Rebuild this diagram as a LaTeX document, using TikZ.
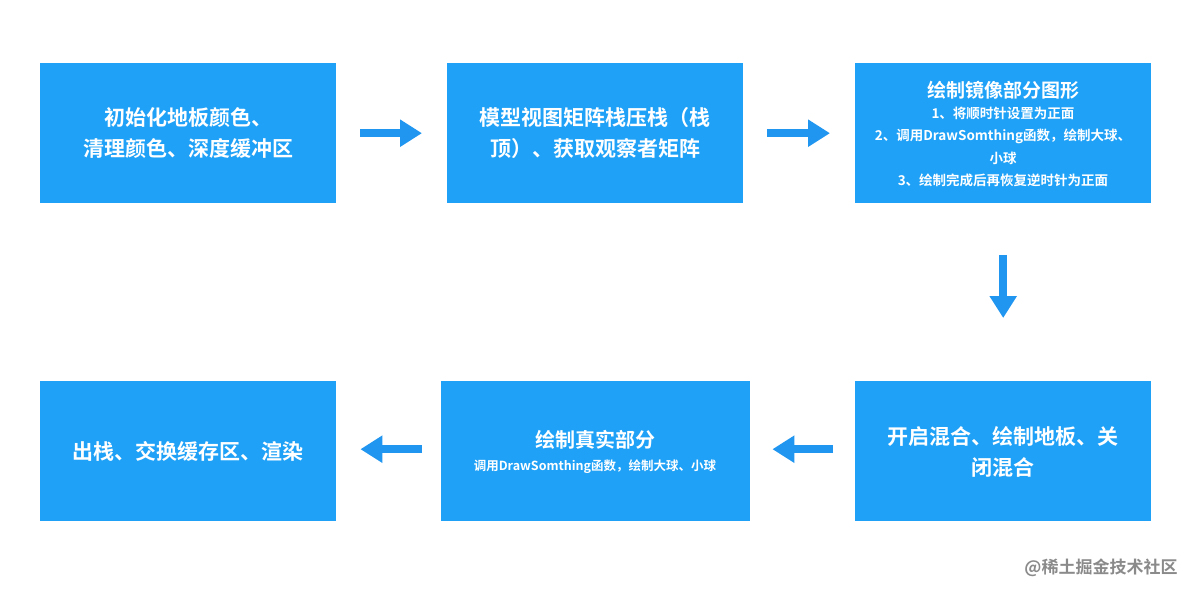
\documentclass[tikz,border=0pt]{standalone}
\usepackage{fontspec}
\setmainfont{Noto Sans CJK SC Bold}
\usetikzlibrary{arrows.meta}
\definecolor{boxblue}{HTML}{1EA1F7}
\definecolor{arrblue}{HTML}{2196F0}
\definecolor{wm}{HTML}{8A8A8A}
\begin{document}
\begin{tikzpicture}[x=1pt,y=-1pt,
  fbox/.style={fill=boxblue,draw=none,minimum width=296pt,minimum height=140pt,inner sep=0pt,anchor=north west,text=white,align=center,font=\fontsize{21}{31}\selectfont},
  conn/.style={draw=arrblue,line width=8pt,-{Triangle[length=22pt,width=26pt]}}]
\useasboundingbox (0,0) rectangle (1200,596);
\fill[white] (0,0) rectangle (1200,596);
\node[fbox] (b1) at (40,63) {初始化地板颜色、\\清理颜色、深度缓冲区};
\node[fbox] (b2) at (447,63) {模型视图矩阵栈压栈（栈\\顶）、获取观察者矩阵};
\node[fbox] (b3) at (855,63) {};
\node[text=white,align=center,font=\fontsize{19}{24}\selectfont] (t3) at (1003,90) {绘制镜像部分图形};
\node[text=white,align=center,font=\fontsize{13.5}{22.5}\selectfont,anchor=north] (s3) at (1003,103) {1、将顺时针设置为正面\\2、调用DrawSomthing函数，绘制大球、\\小球\\3、绘制完成后再恢复逆时针为正面};
\node[fbox] (b6) at (855,381) {};
\node[text=white,align=center,font=\fontsize{21}{31}\selectfont] (t6) at (1003,452) {开启混合、绘制地板、关\\闭混合};
\node[fbox,minimum width=309pt] (b5) at (441,381) {};
\node[text=white,font=\fontsize{20}{24}\selectfont] (t5) at (595,440) {绘制真实部分};
\node[text=white,font=\fontsize{12.5}{16}\selectfont] (s5) at (595,467) {调用DrawSomthing函数，绘制大球、小球};
\node[fbox] (b4) at (40,381) {出栈、交换缓存区、渲染};
\node[text=wm,font=\fontsize{17}{20}\selectfont\addfontfeature{}] (wmk) at (1101,568) {@稀土掘金技术社区};
\draw[conn,shorten <=24pt,shorten >=25pt] (b1.east) -- (b2.west);
\draw[conn,shorten <=24pt,shorten >=25pt] (b2.east) -- (b3.west);
\draw[conn,shorten <=52pt,shorten >=63pt] (b3.south) -- (b6.north);
\draw[conn,shorten <=22pt,shorten >=22pt] ([yshift=2pt]b6.west) -- ([yshift=2pt]b5.east);
\draw[conn,shorten <=19pt,shorten >=24pt] ([yshift=2pt]b5.west) -- ([yshift=2pt]b4.east);
\end{tikzpicture}
\end{document}
